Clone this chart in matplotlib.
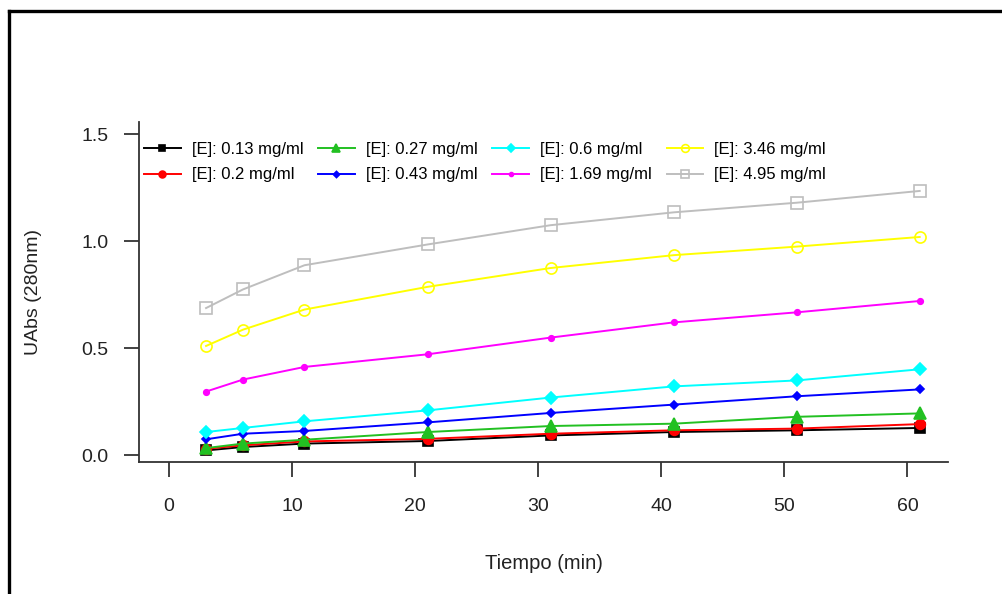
import numpy as np
import matplotlib
matplotlib.use("Agg")
import matplotlib.pyplot as plt
from matplotlib.lines import Line2D

plt.rcParams['font.family'] = ['Liberation Sans', 'DejaVu Sans']

# Tiempos de muestreo (min)
tiempo = [3, 6, 11, 21, 31, 41, 51, 61]

# Absorbancia a 280 nm para cada concentración de enzima
e013 = [0.023, 0.039, 0.055, 0.067, 0.093, 0.109, 0.117, 0.128]
e020 = [0.031, 0.047, 0.065, 0.077, 0.101, 0.117, 0.125, 0.146]
e027 = [0.034, 0.055, 0.073, 0.109, 0.137, 0.148, 0.180, 0.196]
e043 = [0.075, 0.101, 0.114, 0.154, 0.198, 0.237, 0.276, 0.308]
e060 = [0.109, 0.128, 0.159, 0.210, 0.270, 0.322, 0.350, 0.402]
e169 = [0.298, 0.354, 0.413, 0.472, 0.550, 0.621, 0.668, 0.721]
e346 = [0.511, 0.587, 0.681, 0.787, 0.875, 0.935, 0.975, 1.020]
e495 = [0.688, 0.775, 0.888, 0.985, 1.075, 1.135, 1.180, 1.235]

etiquetas = ['[E]: 0.13 mg/ml', '[E]: 0.2 mg/ml', '[E]: 0.27 mg/ml', '[E]: 0.43 mg/ml',
             '[E]: 0.6 mg/ml', '[E]: 1.69 mg/ml', '[E]: 3.46 mg/ml', '[E]: 4.95 mg/ml']
series = [e013, e020, e027, e043, e060, e169, e346, e495]

# color, marcador, tamaño, relleno
estilos = [('black', 's', 6.5, True),
           ('red', 'o', 7, True),
           ('#22C022', '^', 8, True),
           ('blue', 'D', 4.5, True),
           ('cyan', 'D', 6.5, True),
           ('magenta', 'o', 4, True),
           ('yellow', 'o', 8, False),
           ('#BEBEBE', 's', 8, False)]

W, H = 1003, 594
fig = plt.figure(figsize=(W / 100, H / 100), dpi=100)
ax = fig.add_axes([139 / W, 1 - 462 / H, (948 - 139) / W, (462 - 122) / H])

for y, lab, (c, m, ms, lleno) in zip(series, etiquetas, estilos):
    ax.plot(tiempo, y, color=c, lw=1.4, marker=m, ms=ms,
            mfc=c if lleno else 'none', mec=c, mew=1.2, label=lab)

ax.set_xlim(-2.45, 63.3)
ax.set_ylim(-0.031, 1.557)
ax.set_xticks([0, 10, 20, 30, 40, 50, 60])
ax.set_yticks([0.0, 0.5, 1.0, 1.5])
ax.set_yticklabels(['0.0', '0.5', '1.0', '1.5'])

for s in ['top', 'right']:
    ax.spines[s].set_visible(False)
for s in ['left', 'bottom']:
    ax.spines[s].set_color('#333333')
    ax.spines[s].set_linewidth(1.3)

ax.tick_params(axis='both', direction='out', length=11, width=1.3,
               color='#333333', labelsize=14, labelcolor='#222222')
ax.tick_params(axis='y', pad=11)
ax.tick_params(axis='x', pad=15)

ax.set_xlabel('Tiempo (min)', fontsize=14.5, color='#222222', labelpad=28)
ax.set_ylabel('UAbs (280nm)', fontsize=14, color='#222222', labelpad=28)

leg = ax.legend(ncol=4, loc='upper left', bbox_to_anchor=(144 / W, 1 - 142 / H),
                bbox_transform=fig.transFigure, frameon=False, fontsize=12,
                handlelength=2.2, handletextpad=0.65, columnspacing=0.9,
                labelspacing=0.63, borderpad=0, borderaxespad=0, markerscale=0.7)

# marco exterior
fig.add_artist(Line2D([9 / W, 1.0], [1 - 11 / H, 1 - 11 / H], transform=fig.transFigure,
                      color='black', lw=2.4))
fig.add_artist(Line2D([9 / W, 9 / W], [0.0, 1 - 11 / H], transform=fig.transFigure,
                      color='black', lw=2.4))

fig.savefig('out.png', dpi=100)
